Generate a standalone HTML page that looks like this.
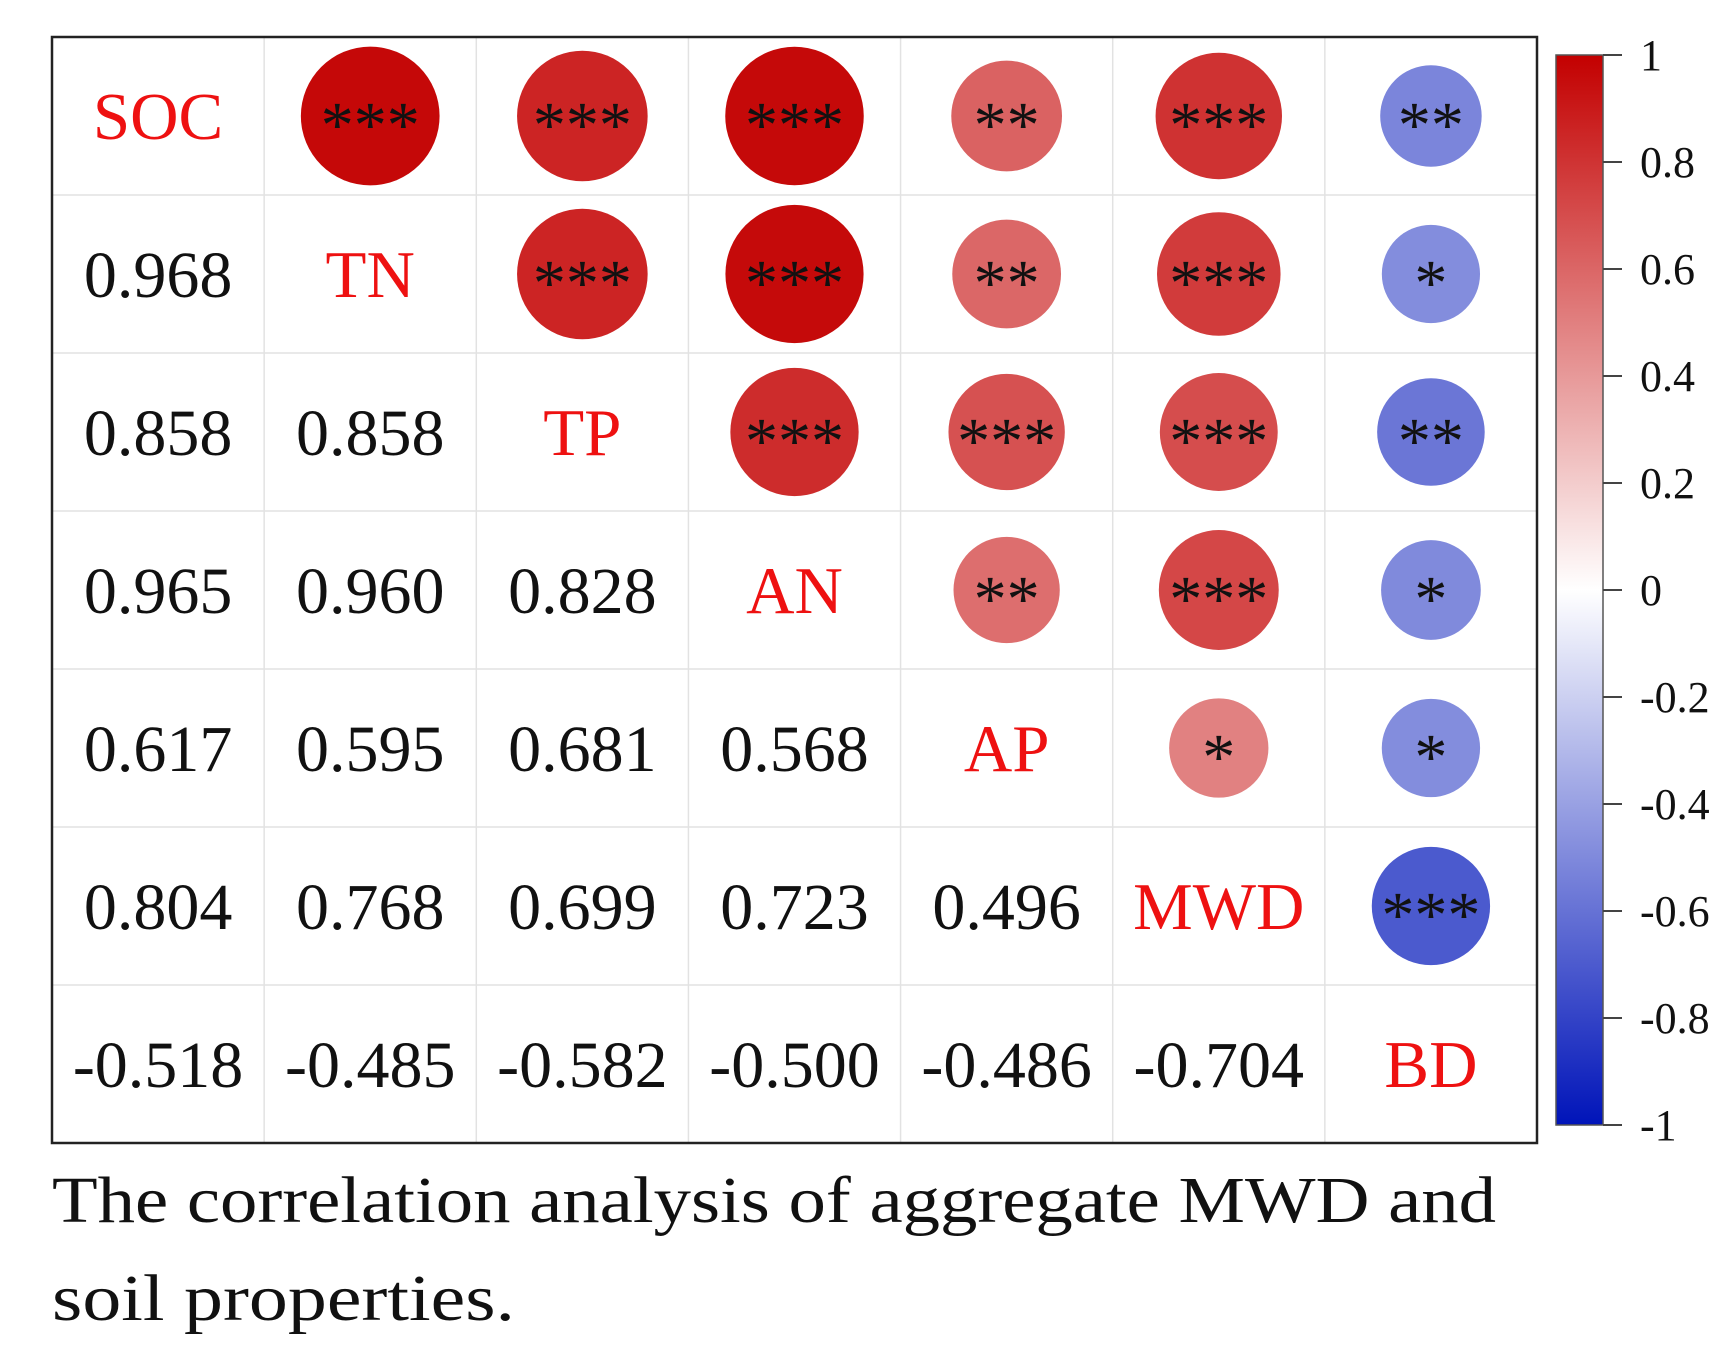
<!DOCTYPE html>
<html><head><meta charset="utf-8"><style>
html,body{margin:0;padding:0;background:#fff;width:1735px;height:1348px;overflow:hidden}
svg text{font-family:"Liberation Serif",serif}
</style></head><body>
<svg id="chart" width="1735" height="1348" xmlns="http://www.w3.org/2000/svg">
<defs><linearGradient id="cbg" x1="0" y1="0" x2="0" y2="1">
<stop offset="0" stop-color="rgb(195,0,0)"/><stop offset="0.5" stop-color="#ffffff"/><stop offset="1" stop-color="rgb(0,20,185)"/>
</linearGradient></defs>
<g id="grid"></g><g id="cells"></g>
<rect x="52" y="37" width="1485" height="1106" fill="none" stroke="#222" stroke-width="2.5"/>
<rect x="1556" y="55" width="47" height="1070" fill="url(#cbg)" stroke="#555" stroke-width="1.5"/>
<g id="cbticks"></g>
<text x="52" y="1222" font-size="66" fill="#111" textLength="1444" lengthAdjust="spacingAndGlyphs">The correlation analysis of aggregate MWD and</text>
<text x="52" y="1320" font-size="66" fill="#111" textLength="463" lengthAdjust="spacingAndGlyphs">soil  properties.</text>
</svg>
<script>
const labels=["SOC","TN","TP","AN","AP","MWD","BD"];
const lowerValues=[
 [],
 [0.968],
 [0.858,0.858],
 [0.965,0.960,0.828],
 [0.617,0.595,0.681,0.568],
 [0.804,0.768,0.699,0.723,0.496],
 [-0.518,-0.485,-0.582,-0.500,-0.486,-0.704]
];
const stars=[
 [],
 ["***"],
 ["***","***"],
 ["***","***","***"],
 ["**","**","***","**"],
 ["***","***","***","***","*"],
 ["**","*","**","*","*","***"]
];
const cbTicks=[1,0.8,0.6,0.4,0.2,0,-0.2,-0.4,-0.6,-0.8,-1];
const NS="http://www.w3.org/2000/svg";
const X0=52,Y0=37,CW=1485/7,CH=1106/7;
const cx=i=>X0+CW*(i+0.5), cy=j=>Y0+CH*(j+0.5);
const cbY=v=>55+(1-v)/2*1070;
function col(r){
 if(r>=0){const t=r;return `rgb(${Math.round(255+(195-255)*t)},${Math.round(255*(1-t))},${Math.round(255*(1-t))})`;}
 const t=-r;return `rgb(${Math.round(255*(1-t))},${Math.round(255+(20-255)*t)},${Math.round(255+(185-255)*t)})`;
}
function mk(tag,attrs,parent){const e=document.createElementNS(NS,tag);for(const k in attrs)e.setAttribute(k,attrs[k]);parent.appendChild(e);return e;}
const grid=document.getElementById('grid'),cells=document.getElementById('cells'),cbt=document.getElementById('cbticks');
for(let k=1;k<7;k++){
 const l1=mk('line',{x1:X0+CW*k,y1:Y0,x2:X0+CW*k,y2:Y0+1106,stroke:'#e2e2e2','stroke-width':1.5},grid);
 
 
 const l2=mk('line',{x1:X0,y1:Y0+CH*k,x2:X0+1485,y2:Y0+CH*k,stroke:'#e2e2e2','stroke-width':1.5},grid);
 
 
}
for(let i=0;i<7;i++){
 const t=mk('text',{x:cx(i),y:cy(i)+23,'font-size':67,fill:'#ee1111','text-anchor':'middle'},cells);
 t.textContent=labels[i];
 
 
}
for(let r=1;r<7;r++)for(let c=0;c<r;c++){
 const v=lowerValues[r][c];
 const t=mk('text',{x:cx(c),y:cy(r)+23,'font-size':66,fill:'#111','text-anchor':'middle'},cells);
 t.textContent=v.toFixed(3);
 
 
 const d=Math.sqrt(Math.abs(v))*141;
 const ci=mk('circle',{cx:cx(r),cy:cy(c),r:d/2,fill:col(v)},cells);
 
 
 const s=mk('text',{x:cx(r),y:cy(c)+31,'font-size':66,fill:'#111','text-anchor':'middle'},cells);
 s.textContent=stars[r][c];
 
 
}
for(const v of cbTicks){
 const y=cbY(v);
 const l=mk('line',{x1:1603,y1:y,x2:1622,y2:y,stroke:'#444','stroke-width':2},cbt);
 
 
 const t=mk('text',{x:1640,y:y+15,'font-size':44,fill:'#111'},cbt);
 t.textContent=String(v);
 
 
}
</script>
</body></html>
